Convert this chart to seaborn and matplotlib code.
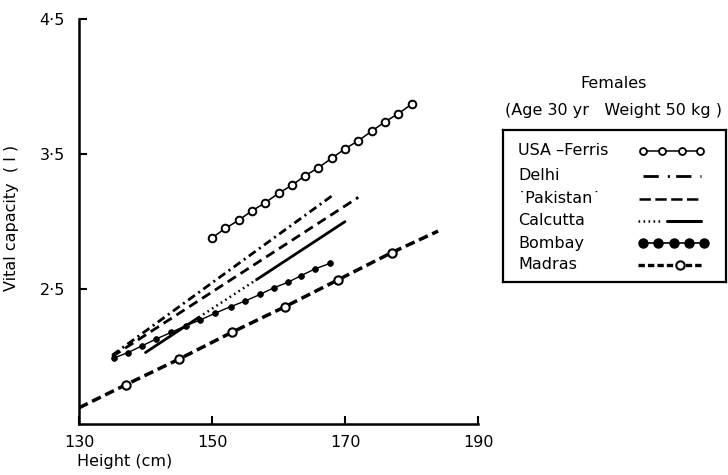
import numpy as np
import pandas as pd
import matplotlib
matplotlib.use("Agg")
import matplotlib.pyplot as plt
import seaborn as sns

# ---- data ----
usa_h = [150, 152, 154, 156, 158, 160, 162, 164, 166, 168, 170, 172, 174, 176, 178, 180]
usa_v = [2.88, 2.95, 3.01, 3.08, 3.14, 3.21, 3.27, 3.34, 3.40, 3.47, 3.54, 3.60, 3.67, 3.74, 3.80, 3.87]

delhi_h = [135, 168]
delhi_v = [2.01, 3.19]

pak_h = [135, 172]
pak_v = [2.00, 3.18]

calc_h = [140, 148, 156.7, 170]
calc_v = [2.03, 2.29, 2.57, 3.00]

bombay_h = [135.3, 137.4, 139.5, 141.6, 143.9, 146.1, 148.2, 150.4, 152.8, 154.9,
            157.2, 159.3, 161.4, 163.4, 165.5, 167.7]
bombay_v = [1.99, 2.03, 2.08, 2.13, 2.18, 2.23, 2.27, 2.32, 2.37, 2.41,
            2.46, 2.51, 2.55, 2.60, 2.65, 2.69]

madras_h = [130, 137, 145, 153, 161, 169, 177, 184]
madras_v = [1.62, 1.79, 1.98, 2.18, 2.37, 2.57, 2.77, 2.93]

x_ticks = [130, 150, 170, 190]
y_ticks = [2.5, 3.5, 4.5]
y_tick_labels = ["2\u00b75", "3\u00b75", "4\u00b75"]
legend_labels = ["USA \u2013Ferris", "Delhi", "\u02d9Pakistan\u02d9", "Calcutta", "Bombay", "Madras"]

# ---- style ----
sns.set_theme(style="white")
plt.rcParams["font.family"] = ["DejaVu Sans"]
plt.rcParams["lines.scale_dashes"] = False

FS = 11.5
K = "black"
fig = plt.figure(figsize=(7.28, 4.75), dpi=100)
ax = fig.add_axes([79 / 728, 1 - 424 / 475, 399 / 728, (424 - 19.3) / 475])

DELHI_LS = (0, (6, 3, 1.5, 3))
PAK_LS = (0, (7, 4))
MADRAS_LS = (0, (7, 3.5))
DOT_LS = (0, (1.2, 2.6))

sns.lineplot(x=usa_h, y=usa_v, ax=ax, color=K, lw=1.1, marker="o", markersize=5.5,
             markerfacecolor="white", markeredgecolor=K, markeredgewidth=1.4)
sns.lineplot(x=delhi_h, y=delhi_v, ax=ax, color=K, lw=2.0, linestyle=DELHI_LS)
sns.lineplot(x=pak_h, y=pak_v, ax=ax, color=K, lw=2.0, linestyle=PAK_LS)
sns.lineplot(x=calc_h[0:2], y=calc_v[0:2], ax=ax, color=K, lw=2.0, linestyle="-")
sns.lineplot(x=calc_h[1:3], y=calc_v[1:3], ax=ax, color=K, lw=1.8, linestyle=DOT_LS)
sns.lineplot(x=calc_h[2:4], y=calc_v[2:4], ax=ax, color=K, lw=2.0, linestyle="-")
sns.lineplot(x=bombay_h, y=bombay_v, ax=ax, color=K, lw=1.0, marker="o", markersize=4.2,
             markerfacecolor=K, markeredgecolor=K, markeredgewidth=0.5)
sns.lineplot(x=madras_h, y=madras_v, ax=ax, color=K, lw=2.5, linestyle=MADRAS_LS,
             marker="o", markersize=6, markerfacecolor="white", markeredgecolor=K,
             markeredgewidth=1.5, markevery=[1, 2, 3, 4, 5, 6])

ax.set_xlim(130, 190)
ax.set_ylim(1.5, 4.5)
ax.set_xticks(x_ticks)
ax.set_xticklabels([str(v) for v in x_ticks])
ax.set_yticks(y_ticks)
ax.set_yticklabels(y_tick_labels)
for s in ["top", "right"]:
    ax.spines[s].set_visible(False)
for s in ["left", "bottom"]:
    ax.spines[s].set_color(K)
    ax.spines[s].set_linewidth(1.8)
ax.tick_params(axis="both", direction="in", length=6, width=1.5, colors=K,
               labelsize=FS, left=True, bottom=True)
ax.tick_params(axis="y", pad=10)
ax.tick_params(axis="x", pad=8)
ax.grid(False)

ax.set_xlabel("Height (cm)", fontsize=FS, color=K, loc="left")
ax.xaxis.set_label_coords(-0.005, -0.075)
ax.set_ylabel("Vital capacity  ( l )", fontsize=FS, color=K)
ax.yaxis.set_label_coords(-0.15, 0.51)

# ---- legend box (drawn as a small panel in pixel units) ----
lax = fig.add_axes([503.3 / 728, 1 - 281.7 / 475, 223.0 / 728, 151.7 / 475])
lax.set_xlim(503.3, 726.3)
lax.set_ylim(281.7, 130)
lax.set_xticks([])
lax.set_yticks([])
lax.set_facecolor("white")
for s in lax.spines.values():
    s.set_visible(True)
    s.set_color(K)
    s.set_linewidth(1.6)

rows_y = [150.5, 176, 198.5, 220.5, 243, 264.5]
for lab, y in zip(legend_labels, rows_y):
    lax.text(518, y, lab, ha="left", va="center", fontsize=FS, color=K)

# USA - Ferris sample
y = rows_y[0]
lax.plot([643, 661.7, 681.7, 700], [y] * 4, color=K, lw=1.1, marker="o", markersize=5,
         markerfacecolor="white", markeredgecolor=K, markeredgewidth=1.3)
# Delhi sample
y = rows_y[1]
lax.plot([643, 701], [y, y], color=K, lw=2.0, linestyle=(0, (11, 6.5, 1.5, 4.5)))
# Pakistan sample
y = rows_y[2]
lax.plot([639, 702], [y, y], color=K, lw=1.8, linestyle=(0, (8.2, 3.2)))
# Calcutta sample
y = rows_y[3]
lax.plot([638, 663], [y, y], color=K, lw=1.8, linestyle=(0, (1.2, 2.4)))
lax.plot([667, 701], [y, y], color=K, lw=2.2, linestyle="-")
# Bombay sample
y = rows_y[4]
lax.plot([642.7, 658.3, 674, 689.3, 704.3], [y] * 5, color=K, lw=1.2, marker="o",
         markersize=6.5, markerfacecolor=K, markeredgecolor=K)
# Madras sample
y = rows_y[5]
lax.plot([638, 702], [y, y], color=K, lw=2.4, linestyle=(0, (4.6, 2.2)))
lax.plot([680], [y], color=K, linestyle="none", marker="o", markersize=6,
         markerfacecolor="white", markeredgecolor=K, markeredgewidth=1.5)

fig.text(614 / 728, 1 - 83 / 475, "Females", ha="center", va="center",
         fontsize=FS, color=K)
fig.text(505 / 728, 1 - 110 / 475, "(Age 30 yr   Weight 50 kg )", ha="left",
         va="center", fontsize=FS, color=K)

fig.savefig("out.png", dpi=100)
